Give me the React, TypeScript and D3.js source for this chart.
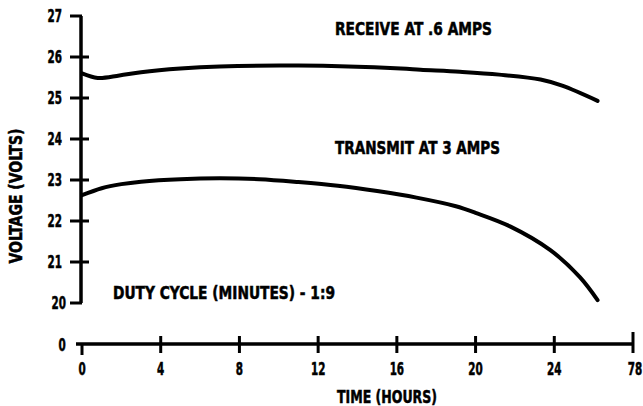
import React from "react";
import * as d3 from "d3";

const receiveHours = [0, 0.8, 1.9, 3, 5, 7, 11, 16.2, 17.2, 19.2, 21.2, 23.3, 24.4, 26.2];
const receiveVolts = [25.6, 25.49, 25.55, 25.63, 25.72, 25.77, 25.79, 25.72, 25.69, 25.64, 25.57, 25.45, 25.3, 24.93];

const transmitHours = [0, 1, 2, 3, 5, 7, 9, 11, 13, 15, 17, 19, 20, 21.75, 23.8, 25.3, 26.2];
const transmitVolts = [22.63, 22.8, 22.9, 22.96, 23.02, 23.04, 23.02, 22.95, 22.86, 22.73, 22.57, 22.36, 22.2, 21.87, 21.29, 20.63, 20.07];

const xTicks = [0, 4, 8, 12, 16, 20, 24, 28];
const xTickLabels = ["0", "4", "8", "12", "16", "20", "24", "78"];
const yTicks = [20, 21, 22, 23, 24, 25, 26, 27];

const FONT = "'DejaVu Sans Condensed', 'DejaVu Sans', sans-serif";

export default function App() {
  const W = 643;
  const H = 406;
  const x = d3.scaleLinear().domain([0, 28]).range([82, 633]);
  const y = d3.scaleLinear().domain([20, 27]).range([303, 16]);
  const axisY = 344;

  const line = d3
    .line<[number, number]>()
    .x((d) => x(d[0]))
    .y((d) => y(d[1]))
    .curve(d3.curveCatmullRom.alpha(0.5));

  const rec: [number, number][] = receiveHours.map((h, i) => [h, receiveVolts[i]]);
  const tra: [number, number][] = transmitHours.map((h, i) => [h, transmitVolts[i]]);

  const textStyle = {
    fontFamily: FONT,
    fontWeight: 700 as const,
    fill: "#000",
    stroke: "#000",
    strokeWidth: 0.5,
  };

  return (
    <svg
      width={W}
      height={H}
      style={{ position: "absolute", left: 0, top: 0, background: "#fff" }}
    >
      <rect width={W} height={H} fill="#fff" />
      {/* Y axis */}
      <line x1={x(0) - 1} x2={x(0) - 1} y1={y(27)} y2={y(20)} stroke="#000" strokeWidth={3.5} />
      {yTicks.map((t) => {
        const isEnd = t === 20 || t === 27;
        return (
          <line
            key={t}
            x1={x(0) - 12}
            x2={isEnd ? x(0) : x(0) + 7}
            y1={y(t)}
            y2={y(t)}
            stroke="#000"
            strokeWidth={3}
          />
        );
      })}
      {yTicks.map((t) => (
        <text
          key={"l" + t}
          transform={`translate(${t === 20 ? 66 : 62}, ${y(t) + 6}) scale(0.68, 1)`}
          textAnchor="end"
          fontSize={17}
          {...textStyle}
        >
          {t}
        </text>
      ))}
      <text
        transform={`translate(22, 196) rotate(-90)`}
        textAnchor="middle"
        fontSize={17}
        textLength={135}
        lengthAdjust="spacingAndGlyphs"
        {...textStyle}
      >
        VOLTAGE (VOLTS)
      </text>

      {/* X axis */}
      <line x1={76} x2={x(28)} y1={axisY} y2={axisY} stroke="#000" strokeWidth={3.5} />
      {xTicks.map((t) => {
        const top = t === 0 ? axisY : t === 28 ? axisY - 12 : axisY - 8;
        const bottom = t === 0 ? axisY + 11 : axisY + 9;
        return (
          <line key={t} x1={x(t)} x2={x(t)} y1={top} y2={bottom} stroke="#000" strokeWidth={3} />
        );
      })}
      {xTicks.map((t, i) => (
        <text
          key={"xl" + t}
          transform={`translate(${t === 28 ? 635 : x(t)}, 375) scale(0.68, 1)`}
          textAnchor="middle"
          fontSize={17}
          {...textStyle}
        >
          {xTickLabels[i]}
        </text>
      ))}
      <text transform="translate(62, 351) scale(0.68, 1)" textAnchor="middle" fontSize={17} {...textStyle}>
        0
      </text>
      <text x={387} y={403} textAnchor="middle" fontSize={17} textLength={100} lengthAdjust="spacingAndGlyphs" {...textStyle}>
        TIME (HOURS)
      </text>

      {/* Curves */}
      <path d={line(rec) || ""} fill="none" stroke="#000" strokeWidth={4} strokeLinecap="round" />
      <path d={line(tra) || ""} fill="none" stroke="#000" strokeWidth={4} strokeLinecap="round" />

      {/* Annotations */}
      <text x={335} y={35} fontSize={17} textLength={157} lengthAdjust="spacingAndGlyphs" {...textStyle}>
        RECEIVE AT .6 AMPS
      </text>
      <text x={335} y={154} fontSize={17} textLength={165} lengthAdjust="spacingAndGlyphs" {...textStyle}>
        TRANSMIT AT 3 AMPS
      </text>
      <text x={113} y={299} fontSize={17} textLength={222} lengthAdjust="spacingAndGlyphs" {...textStyle}>
        DUTY CYCLE (MINUTES) - 1:9
      </text>
    </svg>
  );
}
